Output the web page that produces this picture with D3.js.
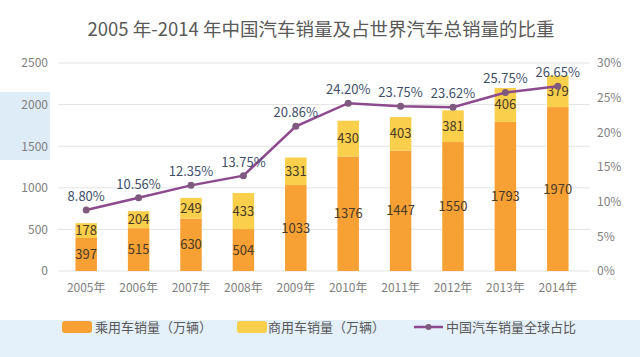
<!DOCTYPE html>
<html><head><meta charset="utf-8">
<script src="https://cdn.jsdelivr.net/npm/d3@7"></script>
<style>
body{margin:0;background:#fff;}
svg{display:block;font-family:"Noto Sans CJK SC","Microsoft YaHei",sans-serif;}
</style></head>
<body><svg id="c" width="640" height="357"></svg>
<script>
const years = ["2005年","2006年","2007年","2008年","2009年","2010年","2011年","2012年","2013年","2014年"];
const passenger = [397,515,630,504,1033,1376,1447,1550,1793,1970];
const commercial = [178,204,249,433,331,430,403,381,406,379];
const share = [8.80,10.56,12.35,13.75,20.86,24.20,23.75,23.62,25.75,26.65];
const leftTicks = [0,500,1000,1500,2000,2500];
const rightTicks = [0,5,10,15,20,25,30];
const title = "2005 年-2014 年中国汽车销量及占世界汽车总销量的比重";
const legendLabels = ["乘用车销量（万辆）","商用车销量（万辆）","中国汽车销量全球占比"];

const svg = d3.select("#c");
const x0=60, x1=584, y0=271, y1=63;
const colP="#F7A033", colC="#F9CF4B", colL="#8E4A8E";

// watermark background blocks
svg.append("rect").attr("x",0).attr("y",92).attr("width",50).attr("height",68).attr("fill","#deecf8");
svg.append("rect").attr("x",0).attr("y",320).attr("width",640).attr("height",37).attr("fill","#e4f0fa");

const x = d3.scaleBand().domain(years).range([x0,x1]).paddingInner(0.59).paddingOuter(0.295);
const y = d3.scaleLinear().domain([0,2500]).range([y0,y1]);
const yr = d3.scaleLinear().domain([0,30]).range([y0,y1]);

// gridlines
svg.append("g").selectAll("line").data(leftTicks).join("line")
  .attr("x1",x0-2).attr("x2",590).attr("y1",d=>y(d)).attr("y2",d=>y(d))
  .attr("stroke","#e3e3e3").attr("stroke-width",1);

// left axis
const ay = d3.axisLeft(y).tickValues(leftTicks).tickFormat(d3.format("d")).tickSize(0).tickPadding(10);
const gl = svg.append("g").attr("transform",`translate(${x0-2},0)`).call(ay);
gl.select(".domain").remove();
gl.selectAll("text").attr("font-size",12).attr("fill","#7f7f7f").attr("font-family","'Noto Sans CJK SC',sans-serif");

// right axis
const ar = d3.axisRight(yr).tickValues(rightTicks).tickFormat(d=>d+"%").tickSize(0).tickPadding(6);
const gr = svg.append("g").attr("transform",`translate(591,0)`).call(ar);
gr.select(".domain").remove();
gr.selectAll("text").attr("font-size",12).attr("fill","#7f7f7f").attr("font-family","'Noto Sans CJK SC',sans-serif");

// x axis
const ax = d3.axisBottom(x).tickSize(0).tickPadding(12);
const gx = svg.append("g").attr("transform",`translate(0,${y0})`).call(ax);
gx.select(".domain").remove();
gx.selectAll("text").attr("font-size",12).attr("fill","#7f7f7f").attr("font-family","'Noto Sans CJK SC',sans-serif");

const data = years.map((yv,i)=>({year:yv,p:passenger[i],c:commercial[i],s:share[i]}));
const bw = x.bandwidth();

svg.append("g").selectAll("rect").data(data).join("rect")
  .attr("x",d=>x(d.year)).attr("width",bw)
  .attr("y",d=>y(d.p)).attr("height",d=>y(0)-y(d.p)).attr("fill",colP);
svg.append("g").selectAll("rect").data(data).join("rect")
  .attr("x",d=>x(d.year)).attr("width",bw)
  .attr("y",d=>y(d.p+d.c)).attr("height",d=>y(d.p)-y(d.p+d.c)).attr("fill",colC);

// bar labels
svg.append("g").selectAll("text").data(data).join("text")
  .attr("x",d=>x(d.year)+bw/2).attr("y",d=>(y(0)+y(d.p))/2).attr("dy","0.35em")
  .attr("text-anchor","middle").attr("font-size",13).attr("fill","#4a3a2a").text(d=>d.p);
svg.append("g").selectAll("text").data(data).join("text")
  .attr("x",d=>x(d.year)+bw/2).attr("y",d=>(y(d.p)+y(d.p+d.c))/2).attr("dy","0.35em")
  .attr("text-anchor","middle").attr("font-size",13).attr("fill","#4a3a2a").text(d=>d.c);

// line
const line = d3.line().x(d=>x(d.year)+bw/2).y(d=>yr(d.s));
svg.append("path").datum(data).attr("d",line).attr("fill","none").attr("stroke",colL).attr("stroke-width",2.5);
svg.append("g").selectAll("circle").data(data).join("circle")
  .attr("cx",d=>x(d.year)+bw/2).attr("cy",d=>yr(d.s)).attr("r",3.5).attr("fill","#7d5a7e");
svg.append("g").selectAll("text").data(data).join("text")
  .attr("x",d=>x(d.year)+bw/2).attr("y",d=>yr(d.s)-9)
  .attr("text-anchor","middle").attr("font-size",13).attr("fill","#3f4f6a").text(d=>d.s.toFixed(2)+"%");

// title
svg.append("text").attr("x",321).attr("y",36).attr("text-anchor","middle")
  .attr("font-size",18.5).attr("fill","#595959").text(title);

// legend
const lg = svg.append("g").attr("font-size",13);
lg.append("rect").attr("x",62).attr("y",321).attr("width",30).attr("height",12).attr("rx",3).attr("fill",colP);
lg.append("text").attr("x",95).attr("y",332).attr("fill","#595959").text(legendLabels[0]);
lg.append("rect").attr("x",237).attr("y",321).attr("width",30).attr("height",12).attr("rx",3).attr("fill",colC);
lg.append("text").attr("x",268).attr("y",332).attr("fill","#595959").text(legendLabels[1]);
lg.append("line").attr("x1",414).attr("x2",443).attr("y1",327).attr("y2",327).attr("stroke",colL).attr("stroke-width",2.5);
lg.append("circle").attr("cx",428.5).attr("cy",327).attr("r",3).attr("fill","#7d5a7e");
lg.append("text").attr("x",446).attr("y",332).attr("fill","#595959").text(legendLabels[2]);
</script></body></html>
